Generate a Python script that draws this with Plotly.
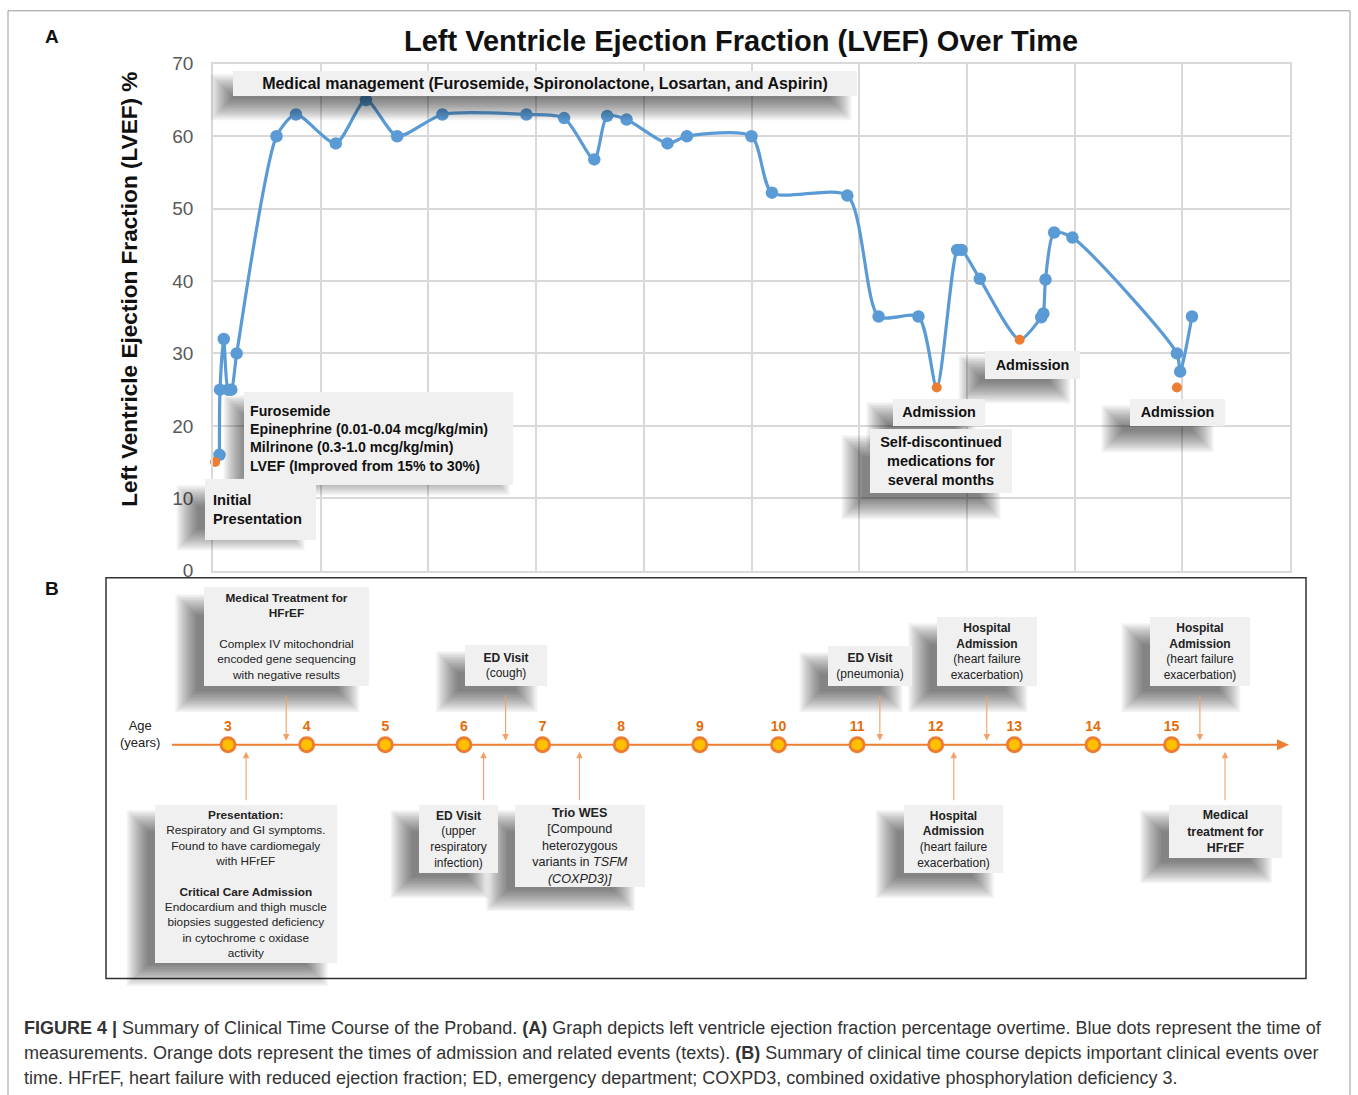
import plotly.graph_objects as go

W, H = 1358, 1095
FONT = "Liberation Sans, Arial, Helvetica, sans-serif"

# the photographed page maps page-y to picture-y as 9.2 + 0.981*y; compensate
V_OFF, V_SCALE = 9.2, 0.981


def px(x):
    return x / W


def py(y):
    return 1 - ((y - V_OFF) / V_SCALE) / H


# ---------------- Panel A data (LVEF %) ----------------
lvef_x = [0.06, 0.065, 0.10, 0.14, 0.17, 0.22, 0.59, 0.77, 1.14, 1.42, 1.71, 2.13,
          2.91, 3.26, 3.54, 3.66, 3.84, 4.22, 4.40, 5.00, 5.19, 5.89, 6.18, 6.55,
          6.91, 6.95, 7.12, 7.69, 7.71, 7.73, 7.81, 7.98, 8.95, 8.98, 9.09]
lvef_y = [16.0, 25.0, 32.0, 25.0, 25.0, 30.0, 60.0, 63.0, 59.0, 65.0, 60.0, 63.0,
          63.0, 62.5, 56.8, 62.8, 62.3, 59.0, 60.0, 60.0, 52.2, 51.8, 35.1, 35.1,
          44.3, 44.3, 40.3, 35.0, 35.5, 40.2, 46.7, 46.0, 30.0, 27.5, 35.1]
event_x = [0.02, 6.72, 7.49, 8.95]
event_y = [15.0, 25.3, 31.9, 25.3]
event_on_line = [False, True, True, False]
y_ticks = [0, 10, 20, 30, 40, 50, 60, 70]

# ---------------- Panel B data (timeline) ----------------
ages = list(range(3, 16))
above_age = [3.74, 6.53, 11.29, 12.65, 15.36]
above_text = [
    "<b>Medical Treatment for<br>HFrEF</b><br><br>Complex IV mitochondrial<br>encoded gene sequencing<br>with negative results",
    "<b>ED Visit</b><br>(cough)",
    "<b>ED Visit</b><br>(pneumonia)",
    "<b>Hospital<br>Admission</b><br>(heart failure<br>exacerbation)",
    "<b>Hospital<br>Admission</b><br>(heart failure<br>exacerbation)",
]
below_age = [3.23, 6.25, 7.47, 12.23, 15.68]
below_text = [
    "<b>Presentation:</b><br>Respiratory and GI symptoms.<br>Found to have cardiomegaly<br>with HFrEF<br><br><b>Critical Care Admission</b><br>Endocardium and thigh muscle<br>biopsies suggested deficiency<br>in cytochrome c oxidase<br>activity",
    "<b>ED Visit</b><br>(upper<br>respiratory<br>infection)",
    "<b>Trio WES</b><br>[Compound<br>heterozygous<br>variants in <i>TSFM</i><br><i>(COXPD3)]</i>",
    "<b>Hospital<br>Admission</b><br>(heart failure<br>exacerbation)",
    "<b>Medical<br>treatment for<br>HFrEF</b>",
]

# layout of boxes (pixels): width, height, x shift
above_box = [(165, 97, 0), (82, 40, 0), (84, 39, -10), (100, 68, 0), (100, 68, 0)]
below_box = [(182, 155, 0), (79, 67, -25), (130, 80, 0), (99, 67, 0), (113, 52, 0)]
above_font = [11.8, 12, 12, 12, 12]
below_font = [11.8, 12, 12.6, 12, 12.4]

BLUE = "#5B9BD5"
ORANGE = "#ED7D31"
GRID = "#d9d9d9"
BOXFILL = "#f0f0f0"

# line through measurements and on-line events
line_pts = sorted(list(zip(lvef_x, lvef_y)) +
                  [(x, y) for x, y, on in zip(event_x, event_y, event_on_line) if on])

fig = go.Figure()
fig.add_trace(go.Scatter(x=[p[0] for p in line_pts], y=[p[1] for p in line_pts],
                         mode="lines", line=dict(color=BLUE, width=3.2, shape="spline", smoothing=0.7),
                         cliponaxis=False, showlegend=False, hoverinfo="skip"))
fig.add_trace(go.Scatter(x=lvef_x, y=lvef_y, mode="markers",
                         marker=dict(color=BLUE, size=12.5), cliponaxis=False, showlegend=False))
fig.add_trace(go.Scatter(x=event_x, y=event_y, mode="markers",
                         marker=dict(color=ORANGE, size=10), cliponaxis=False, showlegend=False))

# timeline circles
fig.add_trace(go.Scatter(x=ages, y=[0] * len(ages), xaxis="x2", yaxis="y2",
                         mode="markers+text", text=[str(a) for a in ages],
                         textposition="top center",
                         textfont=dict(family=FONT, size=14, color="#E46C0A", weight="bold"),
                         marker=dict(color="#FFC000", size=14, line=dict(color=ORANGE, width=3)),
                         cliponaxis=False, showlegend=False))

shapes = []
annotations = []

SH_STEPS, SH_SPREAD, SH_ALPHA = 12, 1.9, 0.052


def shadow_px(x0, y0, x1, y1):
    for k in range(SH_STEPS):
        e = (k - (SH_STEPS - 1) / 2) * SH_SPREAD
        shapes.append(dict(type="rect", xref="paper", yref="paper",
                           x0=px(x0 - e), x1=px(x1 + e), y0=py(y1 + e), y1=py(y0 - e),
                           fillcolor=f"rgba(0,0,0,{SH_ALPHA})", line=dict(width=0), layer="above"))


def shadow_data(age, dx0, dx1, y0, y1):
    for k in range(SH_STEPS):
        e = (k - (SH_STEPS - 1) / 2) * SH_SPREAD
        shapes.append(dict(type="rect", xref="x2", xsizemode="pixel", xanchor=age,
                           x0=dx0 - e, x1=dx1 + e, yref="paper",
                           y0=py(y1 + e), y1=py(y0 - e),
                           fillcolor=f"rgba(0,0,0,{SH_ALPHA})", line=dict(width=0), layer="above"))


def box_px(text, x0, y0, x1, y1, size, align="center", pad=0, shadow=(-18, 16)):
    if shadow:
        dx, dy = shadow
        shadow_px(x0 + dx + 4, y0 + dy, x1 + dx, y1 + dy)
    annotations.append(dict(xref="paper", yref="paper", x=px(x0), y=py(y0),
                            xanchor="left", yanchor="top", text=text, showarrow=False,
                            width=x1 - x0 - 2 * pad, height=(y1 - y0) / V_SCALE, borderpad=pad,
                            align=align, valign="middle", bgcolor=BOXFILL, borderwidth=0,
                            font=dict(family=FONT, size=size, color="#111")))


# ---------------- Panel A boxes ----------------
box_px("<b>Medical management (Furosemide, Spironolactone, Losartan, and Aspirin)</b>",
       233, 70, 857, 95, 16, shadow=(-16, 14))
box_px("<b>Furosemide<br>Epinephrine (0.01-0.04 mcg/kg/min)<br>Milrinone (0.3-1.0 mcg/kg/min)<br>LVEF (Improved from 15% to 30%)</b>",
       244, 391, 513, 470, 14.2, align="left", pad=6, shadow=(-14, 14))
box_px("<b>Initial<br>Presentation</b>", 205, 478, 316, 522, 14.7, align="left", pad=8, shadow=(-22, 17))
box_px("<b>Admission</b>", 893, 398, 985, 424, 14.4, shadow=(-20, 14))
box_px("<b>Self-discontinued<br>medications for<br>several months</b>", 870, 428, 1012, 491, 14.5, shadow=(-22, 17))
box_px("<b>Admission</b>", 985, 350, 1080, 377, 14.4, shadow=(-20, 15))
box_px("<b>Admission</b>", 1130, 398, 1225, 424, 14.4, shadow=(-22, 17))

# ---------------- Panel B boxes and arrows ----------------
TOP_BOTTOM = 685
BOTTOM_TOP = 804
ARROW_C = "#F3A06A"
for age, txt, (w, h, xs) in zip(above_age, above_text, above_box):
    shadow_data(age, -w / 2 + xs - 18, w / 2 + xs - 20, TOP_BOTTOM - h + 16, TOP_BOTTOM + 16)
for age, txt, (w, h, xs) in zip(below_age, below_text, below_box):
    shadow_data(age, -w / 2 + xs - 18, w / 2 + xs - 20, BOTTOM_TOP + 16, BOTTOM_TOP + h + 16)

for age, txt, (w, h, xs), fs in zip(above_age, above_text, above_box, above_font):
    annotations.append(dict(xref="x2", yref="paper", x=age, y=py(TOP_BOTTOM), xshift=xs,
                            xanchor="center", yanchor="bottom", text=txt, showarrow=False,
                            width=w, height=h / V_SCALE, borderpad=0, borderwidth=0, bgcolor=BOXFILL,
                            align="center", valign="middle",
                            font=dict(family=FONT, size=fs, color="#222")))
    annotations.append(dict(xref="x2", yref="paper", x=age, y=py(740), text="",
                            showarrow=True, ax=0, ay=-47, arrowhead=2, arrowsize=1.2,
                            arrowwidth=1.1, arrowcolor=ARROW_C))
for age, txt, (w, h, xs), fs in zip(below_age, below_text, below_box, below_font):
    annotations.append(dict(xref="x2", yref="paper", x=age, y=py(BOTTOM_TOP), xshift=xs,
                            xanchor="center", yanchor="top", text=txt, showarrow=False,
                            width=w, height=h / V_SCALE, borderpad=0, borderwidth=0, bgcolor=BOXFILL,
                            align="center", valign="middle",
                            font=dict(family=FONT, size=fs, color="#222")))
    annotations.append(dict(xref="x2", yref="paper", x=age, y=py(751), text="",
                            showarrow=True, ax=0, ay=50, arrowhead=2, arrowsize=1.2,
                            arrowwidth=1.1, arrowcolor=ARROW_C))

# timeline axis line + arrowhead
shapes.append(dict(type="line", xref="paper", yref="paper", x0=px(172), x1=px(1280),
                   y0=py(744), y1=py(744), line=dict(color=ORANGE, width=2), layer="below"))
shapes.append(dict(type="path", xref="paper", yref="paper",
                   path=f"M {px(1289)} {py(744)} L {px(1277)} {py(738.5)} L {px(1277)} {py(749.5)} Z",
                   fillcolor=ORANGE, line=dict(width=0)))
# panel B frame
shapes.append(dict(type="rect", xref="paper", yref="paper", x0=px(106), x1=px(1306),
                   y0=py(978), y1=py(577), line=dict(color="#333", width=1.5), layer="below"))
# outer frame
shapes.append(dict(type="rect", xref="paper", yref="paper", x0=px(8), x1=px(1350),
                   y0=py(1130), y1=py(10), line=dict(color="#999", width=1), layer="below"))

# titles & labels
annotations.append(dict(xref="paper", yref="paper", x=px(741), y=py(40), text="<b>Left Ventricle Ejection Fraction (LVEF) Over Time</b>",
                        showarrow=False, xanchor="center", yanchor="middle",
                        font=dict(family=FONT, size=29, color="#111")))
annotations.append(dict(xref="paper", yref="paper", x=px(130), y=py(289), text="<b>Left Ventricle Ejection Fraction (LVEF) %</b>",
                        showarrow=False, textangle=-90, xanchor="center", yanchor="middle",
                        font=dict(family=FONT, size=22.6, color="#111")))
annotations.append(dict(xref="paper", yref="paper", x=px(52), y=py(36), text="<b>A</b>",
                        showarrow=False, xanchor="center", yanchor="middle",
                        font=dict(family=FONT, size=19, color="#111")))
annotations.append(dict(xref="paper", yref="paper", x=px(52), y=py(588), text="<b>B</b>",
                        showarrow=False, xanchor="center", yanchor="middle",
                        font=dict(family=FONT, size=19, color="#111")))
annotations.append(dict(xref="paper", yref="paper", x=px(140), y=py(733), text="Age<br>(years)",
                        showarrow=False, xanchor="center", yanchor="middle",
                        font=dict(family=FONT, size=13, color="#222")))

caption = [
    "<b>FIGURE 4 |</b> Summary of Clinical Time Course of the Proband. <b>(A)</b> Graph depicts left ventricle ejection fraction percentage overtime. Blue dots represent the time of",
    "measurements. Orange dots represent the times of admission and related events (texts). <b>(B)</b> Summary of clinical time course depicts important clinical events over",
    "time. HFrEF, heart failure with reduced ejection fraction; ED, emergency department; COXPD3, combined oxidative phosphorylation deficiency 3.",
]
for i, line in enumerate(caption):
    annotations.append(dict(xref="paper", yref="paper", x=px(22), y=py(1027 + 25 * i), text=line,
                            showarrow=False, xanchor="left", yanchor="middle",
                            font=dict(family=FONT, size=18, color="#333")))

fig.update_layout(
    width=W, height=H, margin=dict(l=0, r=0, t=0, b=0),
    paper_bgcolor="white", plot_bgcolor="white",
    xaxis=dict(domain=[px(213), px(1290)], range=[0, 10], dtick=1, showgrid=True,
               gridcolor=GRID, gridwidth=1.5, showticklabels=False, zeroline=False,
               showline=True, linecolor=GRID, linewidth=1.5, mirror=True, ticks=""),
    yaxis=dict(domain=[py(570), py(63)], range=[0, 70], tickvals=y_ticks, showgrid=True,
               gridcolor=GRID, gridwidth=1.5, zeroline=False, showline=True, linecolor=GRID,
               linewidth=1.5, mirror=True, ticks="", ticklabelstandoff=14,
               tickfont=dict(family=FONT, size=19, color="#595959")),
    xaxis2=dict(domain=[0, 1], range=[9 - 699.8 / 78.63, 9 + (W - 699.8) / 78.63],
                visible=False, anchor="y2"),
    yaxis2=dict(domain=[py(978), py(577)], range=[-2.34, 1.67], visible=False, anchor="x2"),
    shapes=shapes, annotations=annotations,
)

POST = (
    "var s=document.documentElement.style;s.margin='0';s.padding='0';s.overflow='hidden';"
    "var b=document.body.style;b.margin='0';b.padding='0';b.overflow='hidden';"
    "var g=document.getElementById('{plot_id}');g.style.position='fixed';g.style.top='0px';g.style.left='0px';"
)
fig.write_html("out.html", post_script=POST,
               config={"responsive": False, "displayModeBar": False})
